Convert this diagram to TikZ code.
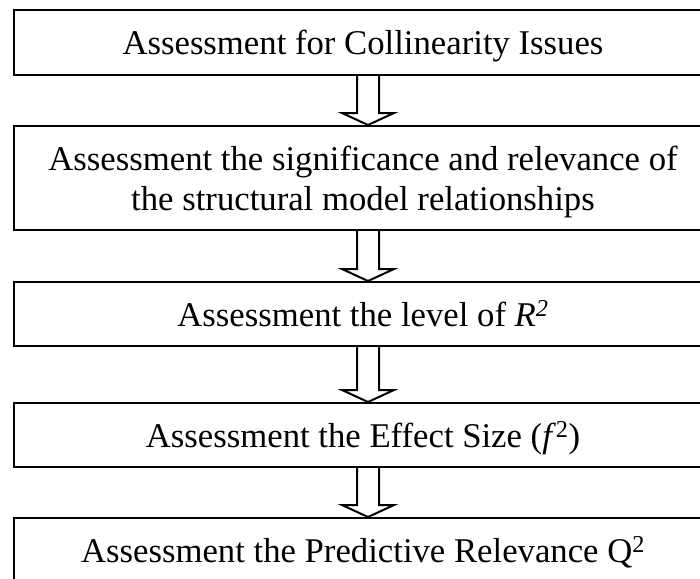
\documentclass[tikz,border=0pt]{standalone}
\usepackage{fontspec}
\setmainfont{Liberation Serif}
\usetikzlibrary{calc}

\begin{document}
\begin{tikzpicture}[x=1pt, y=-1pt,
    stage/.style={draw=black, line width=2pt, minimum width=698pt, minimum height=64pt, inner sep=0pt, align=center, font=\fontsize{34.7}{40}\selectfont, text height=24pt, text depth=0pt},
    flow/.style={draw=black, line width=2pt, line join=miter, to path={
        ($(\tikztostart)+(-11,0)$) -- ($(\tikztotarget)+(-11,-12)$) -- ($(\tikztotarget)+(-26,-12)$) -- (\tikztotarget)
        -- ($(\tikztotarget)+(26,-12)$) -- ($(\tikztotarget)+(11,-12)$) -- ($(\tikztostart)+(11,0)$)}}]

    \clip[use as bounding box] (0,0) rectangle (700,578);
    \fill[white] (0,0) rectangle (700,578);

    \node[stage] (collinearity) at (363,42.5) {Assessment for Collinearity Issues};
    \node[stage, minimum height=104pt, text height=64pt] (paths) at (363,178) {Assessment the significance and relevance of\\the structural model relationships};
    \node[stage] (rsquare) at (363,314) {Assessment the level of \textit{R}\textsuperscript{\textit{2}}};
    \node[stage] (effect) at (363,435) {Assessment the Effect Size (\textit{f}\textsuperscript{2})};
    \node[stage] (predictive) at (363,550) {Assessment the Predictive Relevance Q\textsuperscript{2}};

    \path[flow] ([xshift=5pt]collinearity.south) to ([xshift=5pt]paths.north);
    \path[flow] ([xshift=5pt]paths.south) to ([xshift=5pt]rsquare.north);
    \path[flow] ([xshift=5pt]rsquare.south) to ([xshift=5pt]effect.north);
    \path[flow] ([xshift=5pt]effect.south) to ([xshift=5pt]predictive.north);

\end{tikzpicture}
\end{document}
